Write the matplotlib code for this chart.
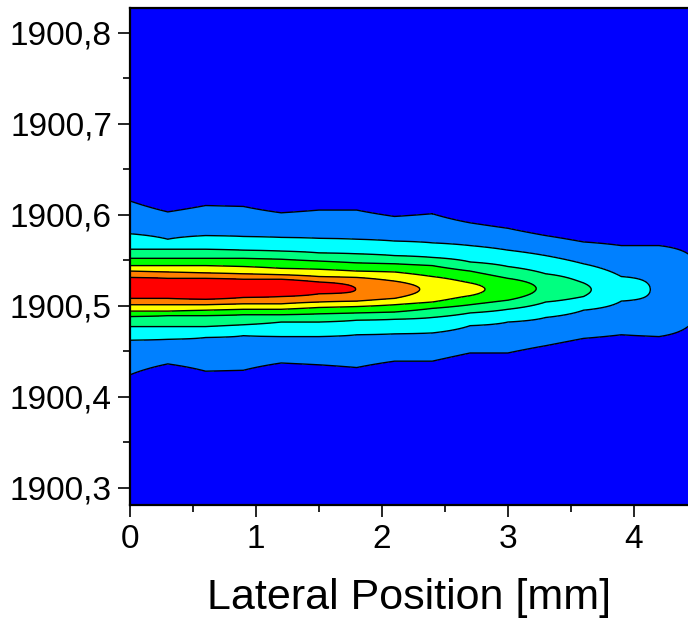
import matplotlib
matplotlib.use("Agg")
import matplotlib.pyplot as plt
from matplotlib.ticker import MultipleLocator, FuncFormatter
import numpy as np

plt.rcParams['font.family'] = ['Liberation Sans', 'DejaVu Sans']

# lateral positions of the measured columns [mm]
x_cols = [0.0, 0.3, 0.6, 0.9, 1.2, 1.5, 1.8, 2.1, 2.4, 2.7, 3.0, 3.3, 3.6, 3.9, 4.2, 4.5]

# ridge (peak) wavelength and peak level of every column
peak_y = [1900.520, 1900.519, 1900.519, 1900.519, 1900.519, 1900.519, 1900.518, 1900.518,
          1900.518, 1900.518, 1900.518, 1900.519, 1900.5175, 1900.518, 1900.517, 1900.517]
peak_val = [8.5, 8.5, 8.5, 8.4, 8.2, 7.7, 6.98, 6.4, 5.8, 5.26, 4.6, 3.8, 3.13, 2.5, 1.85, 1.3]

# where each contour level crosses the column, lower and upper side (None = level not reached)
N = None
lo1 = [1900.424, 1900.436, 1900.428, 1900.429, 1900.437, 1900.435, 1900.432, 1900.439,
       1900.439, 1900.448, 1900.448, 1900.456, 1900.464, 1900.468, 1900.466, 1900.487]
hi1 = [1900.615, 1900.603, 1900.610, 1900.609, 1900.602, 1900.605, 1900.605, 1900.598,
       1900.601, 1900.591, 1900.585, 1900.577, 1900.570, 1900.566, 1900.566, 1900.548]
lo2 = [1900.462, 1900.463, 1900.465, 1900.467, 1900.466, 1900.466, 1900.468, 1900.469,
       1900.470, 1900.478, 1900.482, 1900.487, 1900.495, 1900.505, N, N]
hi2 = [1900.579, 1900.573, 1900.577, 1900.576, 1900.575, 1900.574, 1900.573, 1900.571,
       1900.569, 1900.566, 1900.561, 1900.555, 1900.546, 1900.532, N, N]
lo3 = [1900.477, 1900.477, 1900.477, 1900.479, 1900.482, 1900.482, 1900.484, 1900.485,
       1900.487, 1900.492, 1900.496, 1900.504, 1900.510, N, N, N]
hi3 = [1900.562, 1900.562, 1900.562, 1900.561, 1900.560, 1900.558, 1900.557, 1900.555,
       1900.553, 1900.548, 1900.543, 1900.535, 1900.525, N, N, N]
lo4 = [1900.488, 1900.489, 1900.489, 1900.490, 1900.490, 1900.491, 1900.492, 1900.493,
       1900.497, 1900.501, 1900.506, N, N, N, N, N]
hi4 = [1900.552, 1900.552, 1900.552, 1900.552, 1900.551, 1900.549, 1900.547, 1900.546,
       1900.544, 1900.538, 1900.530, N, N, N, N, N]
lo5 = [1900.494, 1900.494, 1900.495, 1900.496, 1900.496, 1900.498, 1900.499, 1900.501,
       1900.504, 1900.511, N, N, N, N, N, N]
hi5 = [1900.544, 1900.544, 1900.544, 1900.543, 1900.541, 1900.540, 1900.538, 1900.537,
       1900.532, 1900.525, N, N, N, N, N, N]
lo6 = [1900.501, 1900.501, 1900.501, 1900.502, 1900.502, 1900.504, 1900.505, 1900.508,
       N, N, N, N, N, N, N, N]
hi6 = [1900.538, 1900.537, 1900.536, 1900.535, 1900.534, 1900.532, 1900.531, 1900.527,
       N, N, N, N, N, N, N, N]
lo7 = [1900.508, 1900.508, 1900.507, 1900.509, 1900.510, 1900.513, N, N, N, N, N, N, N, N, N, N]
hi7 = [1900.531, 1900.530, 1900.530, 1900.529, 1900.529, 1900.526, N, N, N, N, N, N, N, N, N, N]

lower = [lo1, lo2, lo3, lo4, lo5, lo6, lo7]
upper = [hi1, hi2, hi3, hi4, hi5, hi6, hi7]

band_colors = ["#0000ff", "#0080ff", "#00ffff", "#00ff80", "#00ff00", "#ffff00", "#ff8000", "#ff0000"]

# rebuild the intensity map column by column from the level crossings
y_grid = np.linspace(1900.25, 1900.85, 1801)
Z = np.zeros((len(y_grid), len(x_cols)))
for j in range(len(x_cols)):
    ks = [k for k in range(7) if lower[k][j] is not None]
    K = ks[-1] + 1
    lo_in, hi_in, c, P = lower[K - 1][j], upper[K - 1][j], peak_y[j], peak_val[j]
    # keep the slope through level 1 the same on both sides of the crossing
    if K >= 2:
        d_lo = lower[1][j] - lo1[j]
        d_hi = hi1[j] - upper[1][j]
    else:
        d_lo = (c - lo1[j]) / (P - 1)
        d_hi = (hi1[j] - c) / (P - 1)
    py = [1900.25, lo1[j] - d_lo] + [lower[k][j] for k in ks] + [c] + \
         [upper[k][j] for k in ks[::-1]] + [hi1[j] + d_hi, 1900.85]
    pv = [0, 0] + [k + 1 for k in ks] + [P] + [k + 1 for k in ks[::-1]] + [0, 0]
    col = np.interp(y_grid, py, pv)
    # rounded cap inside the innermost band
    m = (y_grid > lo_in) & (y_grid < hi_in)
    h = np.where(y_grid[m] < c, c - lo_in, hi_in - c)
    col[m] = K + (P - K) * (1 - ((y_grid[m] - c) / h) ** 2)
    Z[:, j] = col

fig = plt.figure(figsize=(6.88, 6.21), dpi=100)
ax = fig.add_axes([130/688, 1 - 505/621, 1 - 130/688, (505 - 8)/621])
ax.contourf(x_cols, y_grid, Z, levels=[-1, 1, 2, 3, 4, 5, 6, 7, 10], colors=band_colors)
ax.contour(x_cols, y_grid, Z, levels=[1, 2, 3, 4, 5, 6, 7], colors="k", linewidths=1.0)

ax.set_xlim(0, 4.43)
ax.set_ylim(1900.281, 1900.827)
ax.xaxis.set_major_locator(MultipleLocator(1))
ax.xaxis.set_minor_locator(MultipleLocator(0.5))
ax.yaxis.set_major_locator(MultipleLocator(0.1))
ax.yaxis.set_minor_locator(MultipleLocator(0.05))
ax.xaxis.set_major_formatter(FuncFormatter(lambda v, p: "%d" % round(v)))
ax.yaxis.set_major_formatter(FuncFormatter(lambda v, p: ("%.1f" % v).replace(".", ",")))
ax.tick_params(which="major", direction="out", length=8.5, width=1.2, labelsize=24, pad=5)
ax.tick_params(which="minor", direction="out", length=5, width=1.2)
ax.tick_params(axis="y", which="major", pad=4.5)
for s in ["left", "bottom", "top"]:
    ax.spines[s].set_linewidth(1.6)
ax.spines["right"].set_visible(False)

ax.set_xlabel("Lateral Position [mm]", fontsize=31, labelpad=17)

fig.savefig("out.png", dpi=100)
